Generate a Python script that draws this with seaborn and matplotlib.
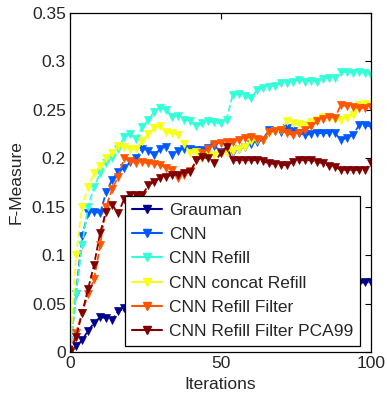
import matplotlib
matplotlib.use("Agg")
import matplotlib.pyplot as plt
from matplotlib.lines import Line2D
import numpy as np
import pandas as pd
import seaborn as sns

iterations = list(range(0, 101, 2))

grauman = [0, 0.006, 0.012, 0.022, 0.030, 0.036, 0.035, 0.033, 0.042, 0.045,
           0.046, 0.047, 0.048, 0.049, 0.050, 0.051, 0.052, 0.053, 0.054, 0.055,
           0.056, 0.056, 0.057, 0.058, 0.059, 0.059, 0.060, 0.060, 0.061, 0.062,
           0.062, 0.063, 0.063, 0.064, 0.064, 0.065, 0.065, 0.066, 0.066, 0.067,
           0.067, 0.068, 0.068, 0.069, 0.069, 0.070, 0.070, 0.071, 0.071, 0.072, 0.072]
cnn = [0, 0.060, 0.120, 0.143, 0.145, 0.143, 0.165, 0.178, 0.186, 0.190,
       0.196, 0.200, 0.210, 0.208, 0.203, 0.210, 0.212, 0.203, 0.208, 0.210,
       0.210, 0.209, 0.209, 0.211, 0.213, 0.207, 0.207, 0.207, 0.210, 0.212,
       0.215, 0.217, 0.219, 0.229, 0.228, 0.227, 0.231, 0.228, 0.226, 0.224,
       0.225, 0.226, 0.226, 0.226, 0.226, 0.219, 0.221, 0.224, 0.234, 0.234, 0.233]
cnn_refill = [0, 0.060, 0.110, 0.150, 0.170, 0.185, 0.195, 0.200, 0.210, 0.222,
              0.225, 0.220, 0.232, 0.240, 0.248, 0.252, 0.250, 0.243, 0.244, 0.240,
              0.238, 0.233, 0.236, 0.238, 0.237, 0.236, 0.240, 0.265, 0.266, 0.264,
              0.262, 0.270, 0.273, 0.274, 0.275, 0.278, 0.278, 0.279, 0.281, 0.279,
              0.280, 0.279, 0.282, 0.283, 0.283, 0.289, 0.289, 0.288, 0.289, 0.288, 0.286]
cnn_concat = [0, 0.100, 0.150, 0.170, 0.185, 0.192, 0.200, 0.205, 0.213, 0.212,
              0.210, 0.210, 0.218, 0.225, 0.231, 0.233, 0.227, 0.226, 0.224, 0.215,
              0.205, 0.207, 0.200, 0.203, 0.203, 0.205, 0.205, 0.208, 0.210, 0.212,
              0.218, 0.219, 0.219, 0.226, 0.228, 0.229, 0.238, 0.236, 0.235, 0.234,
              0.237, 0.240, 0.243, 0.242, 0.241, 0.240, 0.242, 0.245, 0.255, 0.256, 0.255]
cnn_filter = [0, 0.020, 0.040, 0.060, 0.075, 0.110, 0.150, 0.168, 0.181, 0.200,
              0.197, 0.195, 0.196, 0.195, 0.194, 0.193, 0.190, 0.188, 0.180, 0.183,
              0.187, 0.198, 0.205, 0.210, 0.215, 0.216, 0.217, 0.217, 0.219, 0.221,
              0.222, 0.220, 0.219, 0.227, 0.228, 0.229, 0.226, 0.224, 0.226, 0.229,
              0.233, 0.238, 0.241, 0.243, 0.242, 0.255, 0.254, 0.253, 0.252, 0.252, 0.253]
cnn_pca = [0, 0.015, 0.040, 0.065, 0.090, 0.123, 0.145, 0.152, 0.143, 0.158,
           0.162, 0.162, 0.162, 0.172, 0.176, 0.180, 0.181, 0.183, 0.183, 0.185,
           0.186, 0.198, 0.201, 0.200, 0.195, 0.205, 0.212, 0.198, 0.198, 0.198,
           0.198, 0.198, 0.197, 0.195, 0.194, 0.193, 0.193, 0.196, 0.198, 0.198,
           0.198, 0.196, 0.195, 0.192, 0.191, 0.188, 0.188, 0.188, 0.188, 0.188, 0.195]

labels = ["Grauman", "CNN", "CNN Refill", "CNN concat Refill",
          "CNN Refill Filter", "CNN Refill Filter PCA99"]
series = [grauman, cnn, cnn_refill, cnn_concat, cnn_filter, cnn_pca]
y_ticks = [0, 0.05, 0.1, 0.15, 0.2, 0.25, 0.3, 0.35]
y_tick_labels = ["0", "0.05", "0.1", "0.15", "0.2", "0.25", "0.3", "0.35"]
x_ticks = [0, 50, 100]

sns.set_style("white")
plt.rcParams['font.family'] = ['Liberation Sans', 'DejaVu Sans']
plt.rcParams['font.size'] = 12.5

colors = [(0.0, 0.0, 0.55), (0.0, 0.35, 1.0), (0.2, 1.0, 0.85),
          (0.97, 1.0, 0.1), (1.0, 0.33, 0.0), (0.5, 0.0, 0.0)]

fig = plt.figure(figsize=(3.87, 3.98), dpi=100)
ax = fig.add_axes([70/387, 46/398, 301/387, 339/398])

for lab, vals, c in zip(labels, series, colors):
    df = pd.DataFrame({"Iterations": iterations, "F": vals})
    sns.lineplot(data=df, x="Iterations", y="F", ax=ax, color=c, marker="v",
                 linestyle="--", linewidth=1.3, markersize=6,
                 markeredgecolor=c, markeredgewidth=0.5, legend=False)

ax.set_xlim(0, 100)
ax.set_ylim(0, 0.35)
ax.set_xticks(x_ticks)
ax.set_xticklabels([str(t) for t in x_ticks])
ax.set_yticks(y_ticks)
ax.set_yticklabels(y_tick_labels)
ax.tick_params(direction="in", top=True, right=True, length=4, width=0.8,
               labelsize=12.5, color="black", pad=3)
for s in ax.spines.values():
    s.set_color("black")
    s.set_linewidth(0.9)
ax.set_xlabel("Iterations", fontsize=12.5, labelpad=4)
ax.set_ylabel("F-Measure", fontsize=12.5, labelpad=6)

handles = [Line2D([0], [0], color=c, marker="v", linestyle="-", linewidth=1.5,
                  markersize=6, markeredgecolor=c) for c in colors]
leg = ax.legend(handles, labels, loc="lower right", bbox_to_anchor=(0.963, 0.018),
                borderaxespad=0, frameon=True, fancybox=False, framealpha=1,
                edgecolor="black", fontsize=12.5, handlelength=1.7,
                handletextpad=0.4, labelspacing=0.52, borderpad=0.4)
leg.get_frame().set_linewidth(0.9)

fig.savefig("out.png", dpi=100)
